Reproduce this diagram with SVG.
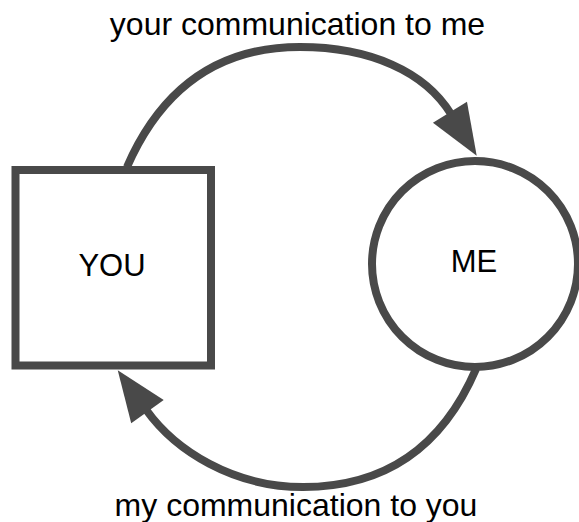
<svg xmlns="http://www.w3.org/2000/svg" width="579" height="522" viewBox="0 0 579 522">
  <style>
    .node { fill: #ffffff; stroke: #494949; stroke-width: 8; }
    .edge { fill: none; stroke: #494949; stroke-width: 8; }
    .label { font-family: "Liberation Sans", Arial, sans-serif; fill: #000000; text-anchor: middle; }
    .nl { font-size: 31px; }
    .el { font-size: 32px; }
  </style>
  <defs>
    <marker id="arrow" markerUnits="userSpaceOnUse" markerWidth="60" markerHeight="50" refX="2" refY="0" viewBox="-5 -25 60 50" orient="auto" overflow="visible">
      <path d="M0,-20 L51,0 L0,20 z" fill="#494949"/>
    </marker>
  </defs>
  <rect width="579" height="522" fill="#ffffff"/>
  <g id="connectors">
    <path id="you-to-me" class="edge" d="M127,167 C155,103 205,47 300,47 C370,47 424.8,71.5 451,114" marker-end="url(#arrow)"/>
    <path id="me-to-you" class="edge" d="M476,369 C448.4,433.3 398,487 303,487 C233,487 175.5,450.7 146.3,410" marker-end="url(#arrow)"/>
  </g>
  <g id="node-you">
    <rect class="node" x="15.5" y="170" width="195.5" height="195.5"/>
    <text class="label nl" x="112" y="276">YOU</text>
  </g>
  <g id="node-me">
    <circle class="node" cx="475" cy="264" r="103"/>
    <text class="label nl" x="474" y="272">ME</text>
  </g>
  <g id="edge-labels">
    <text class="label el" x="297.5" y="34.5">your communication to me</text>
    <text class="label el" x="296" y="515.5">my communication to you</text>
  </g>
</svg>
